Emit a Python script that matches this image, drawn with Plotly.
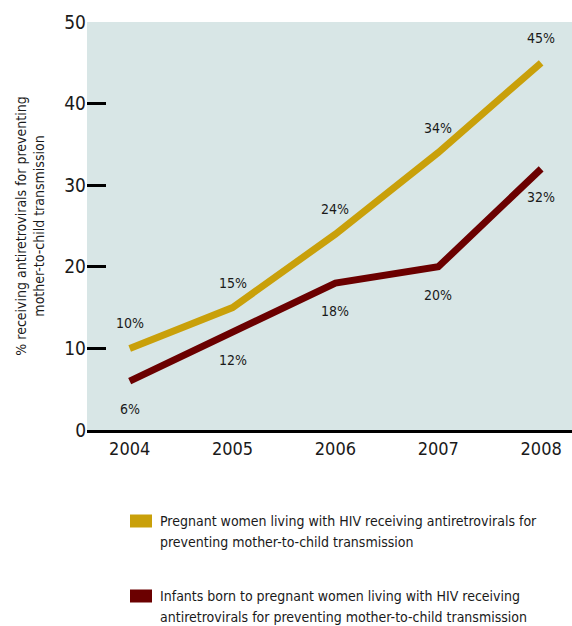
import plotly.graph_objects as go

years = [2004, 2005, 2006, 2007, 2008]
women = [10, 15, 24, 34, 45]
infants = [6, 12, 18, 20, 32]
y_ticks = [0, 10, 20, 30, 40, 50]
women_name = ["Pregnant women living with HIV receiving antiretrovirals for",
              "preventing mother-to-child transmission"]
infants_name = ["Infants born to pregnant women living with HIV receiving",
                "antiretrovirals for preventing mother-to-child transmission"]
y_title = "% receiving antiretrovirals for preventing<br>mother-to-child transmission"

GOLD = "#C9A00A"
RED = "#6B0000"
FONT = "DejaVu Sans Condensed, Liberation Sans Narrow, sans-serif"
TXT = "#1a1a1a"

fig = go.Figure()
fig.add_trace(go.Scatter(x=years, y=women, mode="lines", line=dict(color=GOLD, width=7),
                         name=" ".join(women_name), showlegend=False, hoverinfo="skip"))
fig.add_trace(go.Scatter(x=years, y=infants, mode="lines", line=dict(color=RED, width=7),
                         name=" ".join(infants_name), showlegend=False, hoverinfo="skip"))

annotations = []
for x, v in zip(years, women):
    annotations.append(dict(x=x, y=v, text=f"{v}%", showarrow=False, yshift=25,
                            font=dict(size=14, color=TXT, family=FONT)))
for x, v in zip(years, infants):
    annotations.append(dict(x=x, y=v, text=f"{v}%", showarrow=False, yshift=-28,
                            font=dict(size=14, color=TXT, family=FONT)))

# manual legend (swatch + wrapped text)
PLOT_TOP, PLOT_BOTTOM, PLOT_LEFT, PLOT_W = 22, 430, 87, 485
PLOT_H = PLOT_BOTTOM - PLOT_TOP
legend_items = [(women_name, GOLD, 521), (infants_name, RED, 596)]
shapes = []
for lines, color, ypx in legend_items:
    shapes.append(dict(type="rect", xref="paper", yref="paper",
                       x0=(130 - PLOT_LEFT) / PLOT_W, x1=(152 - PLOT_LEFT) / PLOT_W,
                       y0=(PLOT_BOTTOM - ypx - 6.5) / PLOT_H, y1=(PLOT_BOTTOM - ypx + 6.5) / PLOT_H,
                       fillcolor=color, line=dict(width=0)))
    for i, line in enumerate(lines):
        annotations.append(dict(xref="paper", yref="paper", x=(158 - PLOT_LEFT) / PLOT_W,
                                y=(PLOT_BOTTOM - (ypx + 21 * i)) / PLOT_H,
                                xanchor="left", yanchor="middle",
                                align="left", text=line, showarrow=False,
                                font=dict(size=14, color=TXT, family=FONT)))

fig.update_layout(
    width=572, height=626,
    margin=dict(l=87, r=0, t=22, b=196),
    paper_bgcolor="white",
    plot_bgcolor="#D8E6E6",
    font=dict(family=FONT, color=TXT),
    annotations=annotations,
    shapes=shapes,
    showlegend=False,
)
fig.update_xaxes(range=[2003.585, 2008.3], tickvals=years, ticktext=[str(y) for y in years],
                 showgrid=False, zeroline=False, showline=True, linecolor="black", linewidth=3,
                 ticks="", tickfont=dict(size=18, family=FONT, color=TXT), fixedrange=True)
fig.update_yaxes(range=[0, 50], tickvals=y_ticks, showgrid=False, zeroline=False, showline=False,
                 ticks="inside", ticklen=19, tickwidth=3, tickcolor="black",
                 tickfont=dict(size=19, family=FONT, color=TXT),
                 title=dict(text=y_title, font=dict(size=14, family=FONT, color=TXT), standoff=16),
                 fixedrange=True)

fig.write_html("out.html", config={"displayModeBar": False},
               post_script="document.body.style.margin='0';document.body.style.overflow='hidden';")
